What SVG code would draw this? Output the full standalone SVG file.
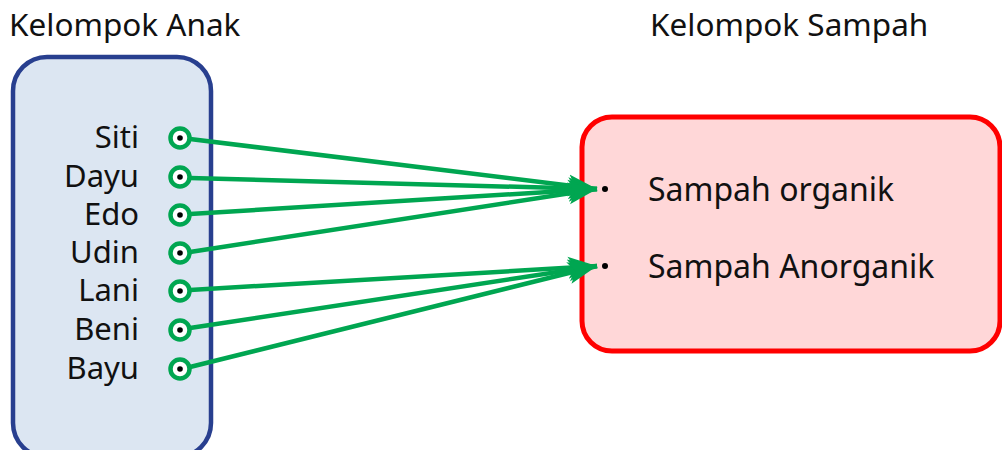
<svg xmlns="http://www.w3.org/2000/svg" width="1002" height="450" viewBox="0 0 1002 450">
<style>
.t{font-family:"Noto Sans","Open Sans",sans-serif;fill:#111}
.h{font-size:31.5px}
.n{font-size:31px;text-anchor:end}
.s{font-size:32px}
.c{fill:#fff;stroke:#00a651;stroke-width:4.5}
.d{fill:#000}
.ln{stroke:#00a651;stroke-width:4.5;fill:none;marker-end:url(#ah)}
</style>
<defs>
<marker id="ah" markerUnits="userSpaceOnUse" markerWidth="32" markerHeight="26" refX="29" refY="13" orient="auto" viewBox="0 0 32 26">
<path d="M0,2 L29,13 L0,24 L7,13 Z" fill="#00a651"/>
</marker>
</defs>
<rect width="1002" height="450" fill="#fff"/>
<text class="t h" x="9" y="36">Kelompok Anak</text>
<text class="t h" x="650" y="36">Kelompok Sampah</text>
<g id="anak">
<rect x="13" y="57" width="198" height="400" rx="34" fill="#dce6f2" stroke="#283f8f" stroke-width="4.5"/>
</g>
<g id="sampah">
<rect x="582" y="117" width="418" height="234" rx="30" fill="#ffd7d8" stroke="#ff0000" stroke-width="5"/>
<circle class="d" cx="605" cy="189" r="3"/>
<circle class="d" cx="605" cy="266" r="3"/>
<text class="t s" x="648" y="201">Sampah organik</text>
<text class="t s" x="648" y="278">Sampah Anorganik</text>
</g>
<g id="connectors">
<line class="ln" x1="190" y1="139" x2="597" y2="189"/>
<line class="ln" x1="190" y1="178" x2="597" y2="189"/>
<line class="ln" x1="190" y1="214" x2="597" y2="189"/>
<line class="ln" x1="190" y1="252" x2="597" y2="189"/>
<line class="ln" x1="190" y1="290" x2="597" y2="266"/>
<line class="ln" x1="190" y1="328" x2="597" y2="266"/>
<line class="ln" x1="190" y1="367" x2="597" y2="266"/>
</g>
<g id="n-siti"><text class="t n" x="139" y="148">Siti</text><circle class="c" cx="180" cy="138" r="9.5"/><circle class="d" cx="180" cy="138" r="2.8"/></g>
<g id="n-dayu"><text class="t n" x="139" y="187">Dayu</text><circle class="c" cx="180" cy="177" r="9.5"/><circle class="d" cx="180" cy="177" r="2.8"/></g>
<g id="n-edo"><text class="t n" x="139" y="225">Edo</text><circle class="c" cx="180" cy="215" r="9.5"/><circle class="d" cx="180" cy="215" r="2.8"/></g>
<g id="n-udin"><text class="t n" x="139" y="263">Udin</text><circle class="c" cx="180" cy="253" r="9.5"/><circle class="d" cx="180" cy="253" r="2.8"/></g>
<g id="n-lani"><text class="t n" x="139" y="301">Lani</text><circle class="c" cx="180" cy="291" r="9.5"/><circle class="d" cx="180" cy="291" r="2.8"/></g>
<g id="n-beni"><text class="t n" x="139" y="340">Beni</text><circle class="c" cx="180" cy="330" r="9.5"/><circle class="d" cx="180" cy="330" r="2.8"/></g>
<g id="n-bayu"><text class="t n" x="139" y="379">Bayu</text><circle class="c" cx="180" cy="369" r="9.5"/><circle class="d" cx="180" cy="369" r="2.8"/></g>
</svg>
